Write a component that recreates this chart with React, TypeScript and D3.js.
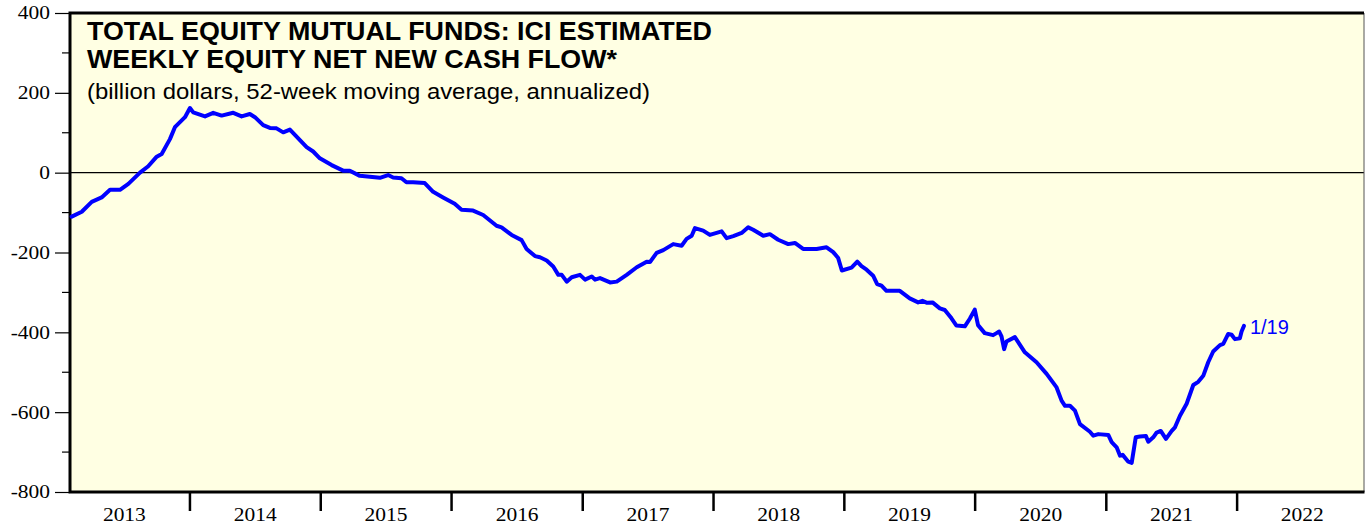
import React, { useEffect, useRef } from 'react';
import * as d3 from 'd3';

// weekly equity net new cash flow, 52-wk avg annualized (billion $)
// dates are decimal years
const dates = [
  2013.096, 2013.173, 2013.249, 2013.325, 2013.389, 2013.465, 2013.529, 2013.618, 2013.681, 2013.746,
  2013.784, 2013.847, 2013.885, 2013.962, 2014.0, 2014.025, 2014.115, 2014.178, 2014.242, 2014.331,
  2014.395, 2014.458, 2014.497, 2014.56, 2014.611, 2014.662, 2014.713, 2014.764, 2014.892, 2014.942,
  2014.993, 2015.083, 2015.171, 2015.222, 2015.299, 2015.375, 2015.452, 2015.515, 2015.553, 2015.617,
  2015.655, 2015.706, 2015.795, 2015.859, 2015.935, 2016.024, 2016.076, 2016.164, 2016.241, 2016.343,
  2016.381, 2016.458, 2016.534, 2016.572, 2016.636, 2016.674, 2016.725, 2016.775, 2016.814, 2016.84,
  2016.878, 2016.916, 2016.979, 2017.018, 2017.069, 2017.094, 2017.132, 2017.209, 2017.26, 2017.336,
  2017.413, 2017.489, 2017.514, 2017.565, 2017.616, 2017.692, 2017.756, 2017.794, 2017.833, 2017.858,
  2017.921, 2017.972, 2018.062, 2018.1, 2018.151, 2018.215, 2018.265, 2018.303, 2018.38, 2018.431,
  2018.494, 2018.571, 2018.622, 2018.685, 2018.788, 2018.864, 2018.915, 2018.953, 2018.981, 2019.055,
  2019.099, 2019.131, 2019.17, 2019.22, 2019.251, 2019.284, 2019.322, 2019.424, 2019.5, 2019.564,
  2019.597, 2019.633, 2019.674, 2019.73, 2019.768, 2019.819, 2019.857, 2019.921, 2019.959, 2019.997,
  2020.022, 2020.073, 2020.137, 2020.163, 2020.183, 2020.201, 2020.221, 2020.239, 2020.303, 2020.379,
  2020.468, 2020.545, 2020.621, 2020.659, 2020.685, 2020.723, 2020.761, 2020.799, 2020.875, 2020.901,
  2020.939, 2021.015, 2021.041, 2021.079, 2021.105, 2021.125, 2021.168, 2021.194, 2021.225, 2021.257,
  2021.303, 2021.321, 2021.359, 2021.385, 2021.416, 2021.456, 2021.5, 2021.525, 2021.563, 2021.614,
  2021.665, 2021.703, 2021.741, 2021.779, 2021.817, 2021.869, 2021.894, 2021.932, 2021.958, 2021.983,
  2022.021, 2022.034, 2022.052,
];
const flows = [
  -110, -98, -73, -62, -43, -43, -28, 0, 16, 40,
  47, 84, 114, 139, 162, 151, 141, 150, 143, 150,
  141, 147, 139, 119, 112, 111, 101, 108, 64, 53,
  36, 19, 5, 5, -8, -10, -13, -6, -12, -14,
  -24, -24, -26, -48, -62, -78, -93, -95, -106, -133,
  -137, -156, -169, -191, -209, -212, -220, -235, -256, -256,
  -273, -262, -256, -268, -260, -268, -264, -275, -273, -256,
  -237, -223, -224, -201, -194, -179, -183, -166, -158, -139,
  -145, -156, -147, -164, -159, -151, -137, -143, -158, -154,
  -168, -179, -176, -191, -191, -187, -199, -214, -245, -238,
  -223, -234, -243, -258, -279, -283, -296, -296, -315, -325,
  -321, -326, -325, -340, -344, -365, -383, -385, -366, -343,
  -382, -402, -407, -402, -398, -410, -442, -423, -412, -450,
  -475, -504, -538, -571, -584, -584, -596, -630, -649, -659,
  -655, -657, -675, -688, -709, -707, -724, -727, -663, -661,
  -660, -674, -663, -651, -647, -667, -647, -638, -609, -579,
  -532, -524, -509, -475, -448, -432, -429, -404, -406, -417,
  -415, -398, -384,
];
const yearLabels = ['2013', '2014', '2015', '2016', '2017', '2018', '2019', '2020', '2021', '2022'];
const yTicks = [400, 200, 0, -200, -400, -600, -800];
const lastLabel = '1/19';
const titleLines = ['TOTAL EQUITY MUTUAL FUNDS: ICI ESTIMATED', 'WEEKLY EQUITY NET NEW CASH FLOW*'];
const subtitle = '(billion dollars, 52-week moving average, annualized)';

const fromDecimal = (y: number) => {
  const yr = Math.floor(y);
  const start = new Date(yr, 0, 1).getTime();
  const end = new Date(yr + 1, 0, 1).getTime();
  return new Date(start + (y - yr) * (end - start));
};

const serif = '"Liberation Serif", "Times New Roman", serif';
const sans = '"Liberation Sans", Arial, sans-serif';

export default function App() {
  const ref = useRef<SVGSVGElement>(null);
  const width = 1366;
  const height = 527;
  const left = 70;
  const right = 1364;
  const top = 13;
  const bottom = 492;

  useEffect(() => {
    document.body.style.margin = '0';
    const svg = d3.select(ref.current);
    svg.selectAll('*').remove();

    const x = d3
      .scaleTime()
      .domain([fromDecimal(2013.083), fromDecimal(2022.97)])
      .range([left, right]);
    const y = d3.scaleLinear().domain([-800, 400]).range([bottom, top]);

    // stretch text horizontally like the original (wide serif labels)
    const widen = (sel: any, k: number) =>
      sel.each(function (this: SVGTextElement) {
        const w = this.getComputedTextLength();
        d3.select(this).attr('textLength', w * k).attr('lengthAdjust', 'spacingAndGlyphs');
      });

    // plot background
    svg
      .append('rect')
      .attr('x', left)
      .attr('y', top)
      .attr('width', right - left)
      .attr('height', bottom - top)
      .attr('fill', '#FFFFE3');

    // zero line
    svg
      .append('line')
      .attr('x1', left)
      .attr('x2', right)
      .attr('y1', y(0))
      .attr('y2', y(0))
      .attr('stroke', '#000')
      .attr('stroke-width', 1.2);

    // y axis: major ticks with labels, minor ticks in between
    const yAxis = d3
      .axisLeft(y)
      .tickValues(yTicks)
      .tickSize(15)
      .tickPadding(5)
      .tickFormat((d) => String(d));
    const gy = svg.append('g').attr('transform', `translate(${left},0)`).call(yAxis);
    gy.select('.domain').remove();
    gy.selectAll('line').attr('stroke', '#000').attr('stroke-width', 1.2);
    const yText = gy
      .selectAll('text')
      .attr('font-family', serif)
      .attr('font-size', 18.5)
      .attr('fill', '#000');
    widen(yText, 1.16);
    const minor = d3.range(-700, 400, 200);
    svg
      .append('g')
      .selectAll('line')
      .data(minor)
      .enter()
      .append('line')
      .attr('x1', left - 8)
      .attr('x2', left)
      .attr('y1', (d) => y(d))
      .attr('y2', (d) => y(d))
      .attr('stroke', '#000')
      .attr('stroke-width', 1.2);

    // x axis: year boundary ticks, labels centred in each year
    const yearStarts = d3.range(2014, 2023).map((yr) => new Date(yr, 0, 1));
    svg
      .append('g')
      .selectAll('line')
      .data(yearStarts)
      .enter()
      .append('line')
      .attr('x1', (d) => x(d))
      .attr('x2', (d) => x(d))
      .attr('y1', bottom)
      .attr('y2', bottom + 19)
      .attr('stroke', '#000')
      .attr('stroke-width', 2.5);
    const xText = svg
      .append('g')
      .selectAll('text')
      .data(yearLabels)
      .enter()
      .append('text')
      .attr('x', (d) => x(new Date(+d, 6, 2)))
      .attr('y', 521)
      .attr('text-anchor', 'middle')
      .attr('font-family', serif)
      .attr('font-size', 18.5)
      .text((d) => d);
    widen(xText, 1.16);

    // frame
    svg
      .append('line')
      .attr('x1', right)
      .attr('x2', right)
      .attr('y1', top)
      .attr('y2', bottom)
      .attr('stroke', '#555')
      .attr('stroke-width', 1);
    svg
      .append('path')
      .attr('d', `M${left},${bottom}V${top}H${right}M${left - 1.5},${bottom}H${right + 0.5}`)
      .attr('fill', 'none')
      .attr('stroke', '#000')
      .attr('stroke-width', 3);

    // the series
    const pts = dates.map((d, i) => ({ date: fromDecimal(d), value: flows[i] }));
    const line = d3
      .line<{ date: Date; value: number }>()
      .x((d) => x(d.date))
      .y((d) => y(d.value));
    svg
      .append('path')
      .datum(pts)
      .attr('d', line)
      .attr('fill', 'none')
      .attr('stroke', '#0000FF')
      .attr('stroke-width', 4)
      .attr('stroke-linejoin', 'round')
      .attr('stroke-linecap', 'round');

    const last = pts[pts.length - 1];
    svg
      .append('text')
      .attr('x', x(last.date) + 6)
      .attr('y', y(last.value) + 8)
      .attr('font-family', sans)
      .attr('font-size', 20)
      .attr('fill', '#0000FF')
      .text(lastLabel);

    // title block, widths pinned to the original
    const titleWidths = [625, 530];
    svg
      .append('g')
      .selectAll('text')
      .data(titleLines)
      .enter()
      .append('text')
      .attr('x', 87)
      .attr('y', (d, i) => 40 + i * 28)
      .attr('font-family', sans)
      .attr('font-weight', 'bold')
      .attr('font-size', 25)
      .attr('fill', '#000')
      .attr('textLength', (d, i) => titleWidths[i])
      .attr('lengthAdjust', 'spacingAndGlyphs')
      .text((d) => d);
    svg
      .append('text')
      .attr('x', 87)
      .attr('y', 99)
      .attr('font-family', sans)
      .attr('font-size', 22)
      .attr('fill', '#000')
      .attr('textLength', 563)
      .attr('lengthAdjust', 'spacingAndGlyphs')
      .text(subtitle);
  }, []);

  return <svg ref={ref} width={width} height={height} style={{ display: 'block' }} />;
}
